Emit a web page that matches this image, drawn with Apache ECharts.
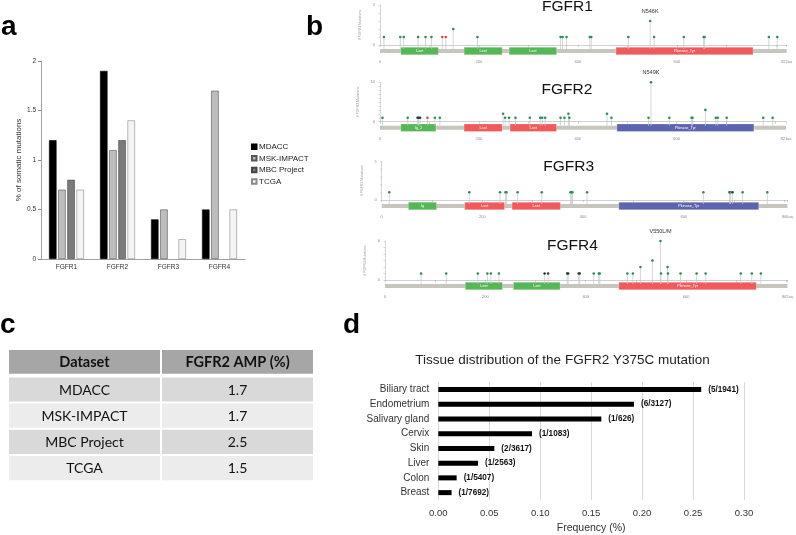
<!DOCTYPE html>
<html><head><meta charset="utf-8">
<script src="https://cdn.jsdelivr.net/npm/echarts@6/dist/echarts.min.js"></script>
<style>html,body{margin:0;padding:0;background:#fff}#c{width:796px;height:535px}</style>
</head><body><div id="c"></div>
<script>
// ---------- Panel a data ----------
const genes = ['FGFR1', 'FGFR2', 'FGFR3', 'FGFR4'];
const mdacc = [1.2, 1.9, 0.4, 0.5];
const mskImpact = [0.7, 1.1, 0.5, 1.7];
const mbcProject = [0.8, 1.2, null, null];
const tcga = [0.7, 1.4, 0.2, 0.5];

// ---------- Panel b data (aa positions, mutation counts) ----------
const fgfr1Len = 822;
const fgfr1Pos = [8, 41, 48, 77, 92, 104, 126, 133, 148, 197, 365, 369, 377, 424, 427, 502, 546, 554, 614, 654, 656, 786, 803];
const fgfr1Cnt = [1, 1, 1, 1, 1, 1, 1, 1, 2, 1, 1, 1, 1, 1, 1, 1, 3, 1, 1, 1, 1, 1, 1];
const fgfr1Domains = [[42, 118, 'I-set'], [170, 247, 'I-set'], [261, 357, 'I-set'], [477, 754, 'Pkinase_Tyr']];
const fgfr1Hotspot = [[546, 'N546K']];
const fgfr1Red = [126, 133];
const fgfr1Dark = [];

const fgfr2Len = 821;
const fgfr2Pos = [5, 56, 76, 78, 81, 96, 111, 121, 249, 253, 261, 274, 303, 324, 328, 334, 365, 373, 381, 383, 459, 468, 543, 548, 585, 630, 632, 658, 679, 683, 701, 775, 794];
const fgfr2Cnt = [1, 1, 1, 1, 1, 1, 1, 1, 2, 1, 1, 1, 1, 1, 1, 1, 1, 1, 2, 1, 2, 1, 1, 10, 1, 1, 1, 3, 1, 1, 1, 1, 1];
const fgfr2Domains = [[42, 113, 'Ig_2'], [170, 247, 'I-set'], [263, 357, 'I-set'], [479, 756, 'Pkinase_Tyr']];
const fgfr2Hotspot = [[548, 'N549K']];
const fgfr2Red = [96];
const fgfr2Dark = [76, 78, 81];

const fgfr3Len = 806;
const fgfr3Pos = [15, 174, 235, 246, 248, 270, 318, 375, 377, 379, 408, 639, 691, 693, 697, 717, 766];
const fgfr3Cnt = [1, 1, 1, 1, 1, 1, 1, 1, 1, 1, 1, 1, 1, 1, 1, 1, 1];
const fgfr3Domains = [[53, 109, 'Ig'], [165, 244, 'I-set'], [259, 355, 'I-set'], [471, 749, 'Pkinase_Tyr']];
const fgfr3Hotspot = [];
const fgfr3Red = [];
const fgfr3Dark = [691, 697];

const fgfr4Len = 802;
const fgfr4Pos = [72, 122, 185, 204, 211, 227, 318, 325, 363, 365, 386, 388, 416, 426, 428, 483, 494, 509, 533, 549, 550, 563, 564, 589, 621, 639, 709, 731, 749];
const fgfr4Cnt = [1, 1, 1, 1, 1, 1, 1, 1, 1, 1, 1, 1, 1, 1, 1, 1, 1, 2, 3, 6, 1, 2, 1, 1, 1, 1, 1, 1, 1];
const fgfr4Domains = [[160, 234, 'I-set'], [256, 349, 'I-set'], [466, 740, 'Pkinase_Tyr']];
const fgfr4Hotspot = [[549, 'V550L/M']];
const fgfr4Red = [];
const fgfr4Dark = [318, 325, 363, 365, 386, 388];

// ---------- Panel c data ----------
const tableHeader = ['Dataset', 'FGFR2 AMP (%)'];
const datasets = ['MDACC', 'MSK-IMPACT', 'MBC Project', 'TCGA'];
const ampPct = ['1.7', '1.7', '2.5', '1.5'];

// ---------- Panel d data ----------
const tissues = ['Biliary tract', 'Endometrium', 'Salivary gland', 'Cervix', 'Skin', 'Liver', 'Colon', 'Breast'];
const freq = [0.258, 0.192, 0.160, 0.092, 0.055, 0.039, 0.018, 0.013];
const ratioLabels = ['(5/1941)', '(6/3127)', '(1/626)', '(1/1083)', '(2/3617)', '(1/2563)', '(1/5407)', '(1/7692)'];

// ---------- styles / layout ----------
const FONT = 'Liberation Sans, Arial, sans-serif';
const GREEN = '#55b755', RED = '#f05a5c', BLUE = '#5d64ae';
const proteins = [
  {name: 'FGFR1', len: fgfr1Len, pos: fgfr1Pos, cnt: fgfr1Cnt, dom: fgfr1Domains, domCol: [GREEN, GREEN, GREEN, RED], hot: fgfr1Hotspot, red: fgfr1Red, dark: fgfr1Dark, ymax: 5, left: 380, right: 786.7, y0: 45, unit: 8, titleY: 7.5},
  {name: 'FGFR2', len: fgfr2Len, pos: fgfr2Pos, cnt: fgfr2Cnt, dom: fgfr2Domains, domCol: [GREEN, RED, RED, BLUE], hot: fgfr2Hotspot, red: fgfr2Red, dark: fgfr2Dark, ymax: 10, left: 380, right: 786, y0: 121.7, unit: 3.94, titleY: 91},
  {name: 'FGFR3', len: fgfr3Len, pos: fgfr3Pos, cnt: fgfr3Cnt, dom: fgfr3Domains, domCol: [GREEN, RED, RED, BLUE], hot: fgfr3Hotspot, red: fgfr3Red, dark: fgfr3Dark, ymax: 5, left: 381.7, right: 787.7, y0: 200, unit: 7.7, titleY: 167.5},
  {name: 'FGFR4', len: fgfr4Len, pos: fgfr4Pos, cnt: fgfr4Cnt, dom: fgfr4Domains, domCol: [GREEN, GREEN, RED], hot: fgfr4Hotspot, red: fgfr4Red, dark: fgfr4Dark, ymax: 6, left: 385, right: 791.7, y0: 280, unit: 6.5, titleY: 246.5}
];
const BB_OFF = 6;

const grids = [], xAxes = [], yAxes = [], series = [], titles = [];

// Panel a
grids.push({left: 41, top: 61, width: 204, height: 198});
xAxes.push({type: 'category', gridIndex: 0, data: genes,
  axisLine: {lineStyle: {color: '#8a8a8a', width: 0.8}}, axisTick: {show: false},
  axisLabel: {fontSize: 6.5, color: '#333', margin: 5, fontFamily: FONT}});
yAxes.push({type: 'value', gridIndex: 0, min: 0, max: 2, interval: 0.5,
  axisLine: {show: true, lineStyle: {color: '#8a8a8a', width: 0.8}},
  axisTick: {show: true, length: 3, lineStyle: {color: '#8a8a8a'}},
  splitLine: {show: false},
  axisLabel: {fontSize: 6.5, color: '#333', margin: 5, fontFamily: FONT},
  name: '% of somatic mutations', nameLocation: 'middle', nameGap: 16, nameRotate: 90,
  nameTextStyle: {fontSize: 8, color: '#333', fontFamily: FONT}});
const aStyles = [
  {name: 'MDACC', data: mdacc, color: '#000000', border: '#000000'},
  {name: 'MSK-IMPACT', data: mskImpact, color: '#bdbdbd', border: '#555555'},
  {name: 'MBC Project', data: mbcProject, color: '#7b7b7b', border: '#444444'},
  {name: 'TCGA', data: tcga, color: '#f4f4f4', border: '#8a8a8a'}
];
aStyles.forEach(s => series.push({type: 'bar', name: s.name, xAxisIndex: 0, yAxisIndex: 0, data: s.data,
  barWidth: 7.5, barGap: '22%', itemStyle: {color: s.color, borderColor: s.border, borderWidth: 0.6}}));

// Panel b
proteins.forEach((p, k) => {
  const gi = grids.length;
  grids.push({left: p.left, top: p.y0 - p.ymax * p.unit, width: p.right - p.left, height: p.ymax * p.unit});
  const tickVals = [];
  for (let v = 0; v < p.len; v += 100) tickVals.push(v);
  tickVals.push(p.len);
  xAxes.push({type: 'value', gridIndex: gi, min: 0, max: p.len, offset: 12,
    axisLine: {show: true, lineStyle: {color: '#b0b0b0', width: 0.6}},
    axisTick: {show: true, length: 2, customValues: tickVals, lineStyle: {color: '#b0b0b0', width: 0.6}},
    splitLine: {show: false},
    axisLabel: {customValues: [0, 200, 400, 600, p.len], fontSize: 4, color: '#888', margin: 3,
      formatter: v => (v === p.len ? p.len + 'aa' : String(v))}});
  const yTicks = [];
  for (let v = 0; v <= p.ymax; v++) yTicks.push(v);
  yAxes.push({type: 'value', gridIndex: gi, min: 0, max: p.ymax, offset: 3,
    axisLine: {show: true, lineStyle: {color: '#b8b8b8', width: 0.6}},
    axisTick: {show: true, length: 1.5, customValues: yTicks, lineStyle: {color: '#b8b8b8', width: 0.6}},
    splitLine: {show: false},
    axisLabel: {customValues: [0, p.ymax], fontSize: 4, color: '#888', margin: 2},
    name: '# ' + p.name + ' Mutations', nameLocation: 'middle', nameRotate: 90, nameGap: 8,
    nameTextStyle: {fontSize: 3.5, color: '#999'}});
  // backbone + domains
  const trackData = [[0, p.len]].concat(p.dom.map(d => [d[0], d[1]]));
  series.push({type: 'custom', xAxisIndex: gi, yAxisIndex: gi, data: trackData, silent: true, z: 2,
    renderItem: (params, api) => {
      const i = params.dataIndex;
      const a = api.coord([api.value(0), 0]), b = api.coord([api.value(1), 0]);
      const cy = a[1] + BB_OFF;
      if (i === 0) return {type: 'rect', shape: {x: a[0], y: cy - 2, width: b[0] - a[0], height: 4}, style: {fill: '#c6c6be'}};
      const d = p.dom[i - 1];
      return {type: 'group', children: [
        {type: 'rect', shape: {x: a[0], y: cy - 3.8, width: b[0] - a[0], height: 7.6}, style: {fill: p.domCol[i - 1], stroke: 'rgba(255,255,255,0.5)', lineWidth: 0.5}},
        {type: 'text', style: {text: d[2], x: (a[0] + b[0]) / 2, y: cy, align: 'center', verticalAlign: 'middle', fill: '#ffffff', fontSize: 3.8, fontFamily: FONT}}
      ]};
    }});
  // lollipops
  const lolData = p.pos.map((x, i) => [x, p.cnt[i]]);
  series.push({type: 'custom', xAxisIndex: gi, yAxisIndex: gi, data: lolData, silent: true, z: 3,
    renderItem: (params, api) => {
      const x = api.value(0), c = api.value(1);
      const top = api.coord([x, c]), base = api.coord([x, 0]);
      const bb = base[1] + BB_OFF - 2;
      let col = '#2b8f52';
      if (p.red.indexOf(x) >= 0) col = '#d9493f';
      if (p.dark.indexOf(x) >= 0) col = '#24402c';
      const ch = [
        {type: 'line', shape: {x1: top[0], y1: bb, x2: top[0], y2: top[1]}, style: {stroke: '#c4c4c4', lineWidth: 0.7}},
        {type: 'circle', shape: {cx: top[0], cy: top[1], r: 1.3}, style: {fill: col}}
      ];
      const h = p.hot.find(t => t[0] === x);
      if (h) ch.push({type: 'text', style: {text: h[1], x: top[0], y: top[1] - 9.5, align: 'center', verticalAlign: 'middle', fill: '#333', fontSize: 5.5, fontFamily: FONT}});
      return {type: 'group', children: ch};
    }});
  titles.push({text: p.name, left: (p.left + p.right) / 2 - 16, top: p.titleY - 9, textAlign: 'center', padding: 0,
    textStyle: {fontSize: 15.5, fontWeight: 'normal', color: '#111', fontFamily: FONT}});
});

// Panel c (table)
const gC = grids.length;
grids.push({left: 9, top: 350, width: 304, height: 131});
xAxes.push({type: 'category', gridIndex: gC, data: tableHeader, show: false});
yAxes.push({type: 'category', gridIndex: gC, data: ['h'].concat(datasets), inverse: true, show: false});
const tableData = [];
tableHeader.forEach((t, c) => tableData.push([c, 0]));
datasets.forEach((d, r) => { tableData.push([0, r + 1]); tableData.push([1, r + 1]); });
series.push({type: 'custom', xAxisIndex: gC, yAxisIndex: gC, data: tableData, silent: true,
  renderItem: (params, api) => {
    const c = api.value(0), r = api.value(1);
    const ctr = api.coord([c, r]), sz = api.size([1, 1]);
    const x0 = ctr[0] - sz[0] / 2 + (c === 1 ? 1 : 0), w = sz[0] - 1;
    let y0, h;
    if (r === 0) { y0 = ctr[1] - sz[1] / 2; h = sz[1] - 2.4; }
    else { y0 = ctr[1] - sz[1] / 2 + 1.2; h = sz[1] - 2; }
    const fill = r === 0 ? '#a6a6a6' : (r % 2 === 1 ? '#d9d9d9' : '#ececec');
    const txt = r === 0 ? tableHeader[c] : (c === 0 ? datasets[r - 1] : ampPct[r - 1]);
    return {type: 'group', children: [
      {type: 'rect', shape: {x: x0, y: y0, width: w, height: h}, style: {fill: fill}},
      {type: 'text', style: {text: txt, x: x0 + w / 2, y: y0 + h / 2 + 0.5, align: 'center', verticalAlign: 'middle',
        fill: '#111', fontSize: r === 0 ? 14.5 : 14, fontWeight: r === 0 ? 'bold' : 'normal', fontFamily: 'Lato, Open Sans, sans-serif'}}
    ]};
  }});

// Panel d
const gD = grids.length;
grids.push({left: 438.3, top: 382, width: 305.7, height: 118.5});
xAxes.push({type: 'value', gridIndex: gD, min: 0, max: 0.3, interval: 0.05,
  axisLine: {show: false}, axisTick: {show: false},
  splitLine: {show: true, lineStyle: {color: '#d9d9d9', width: 1}},
  axisLabel: {fontSize: 9.5, color: '#333', margin: 8, formatter: v => v.toFixed(2), fontFamily: FONT},
  name: 'Frequency (%)', nameLocation: 'middle', nameGap: 23,
  nameTextStyle: {fontSize: 10.5, color: '#333', fontFamily: FONT}});
yAxes.push({type: 'category', gridIndex: gD, data: tissues, inverse: true,
  axisLine: {show: false}, axisTick: {show: false},
  axisLabel: {fontSize: 10, color: '#333', margin: 9, fontFamily: FONT}});
series.push({type: 'bar', xAxisIndex: gD, yAxisIndex: gD, data: freq, barWidth: 5,
  itemStyle: {color: '#000'},
  label: {show: true, position: 'right', distance: 7, fontSize: 8.2, fontWeight: 'bold', color: '#111', fontFamily: FONT,
    formatter: prm => ratioLabels[prm.dataIndex]}});
titles.push({text: 'Tissue distribution of the FGFR2 Y375C mutation', left: 562.5, top: 353.5, textAlign: 'center', padding: 0,
  textStyle: {fontSize: 13.5, fontWeight: 'normal', color: '#222', fontFamily: FONT}});

// panel letters
const letters = [['a', 1, 27], ['b', 306, 27], ['c', 0, 325.5], ['d', 343, 325.5]];
const graphic = letters.map(l => ({type: 'text', x: l[1], y: l[2], style: {text: l[0], fontSize: 28, fontWeight: 'bold', fill: '#000', fontFamily: FONT, verticalAlign: 'middle'}}));

const option = {
  animation: false,
  textStyle: {fontFamily: FONT},
  title: titles,
  grid: grids,
  xAxis: xAxes,
  yAxis: yAxes,
  legend: {data: ['MDACC', 'MSK-IMPACT', 'MBC Project', 'TCGA'], orient: 'vertical', left: 251, top: 142,
    icon: 'rect', itemWidth: 4.5, itemHeight: 4.5, itemGap: 2.2, padding: 0,
    textStyle: {fontSize: 8, lineHeight: 9.4, color: '#222', padding: [0, 0, 0, -2.5], fontFamily: FONT}},
  series: series,
  graphic: graphic
};
const chart = echarts.init(document.getElementById('c'));
chart.setOption(option);
</script>
</body></html>
